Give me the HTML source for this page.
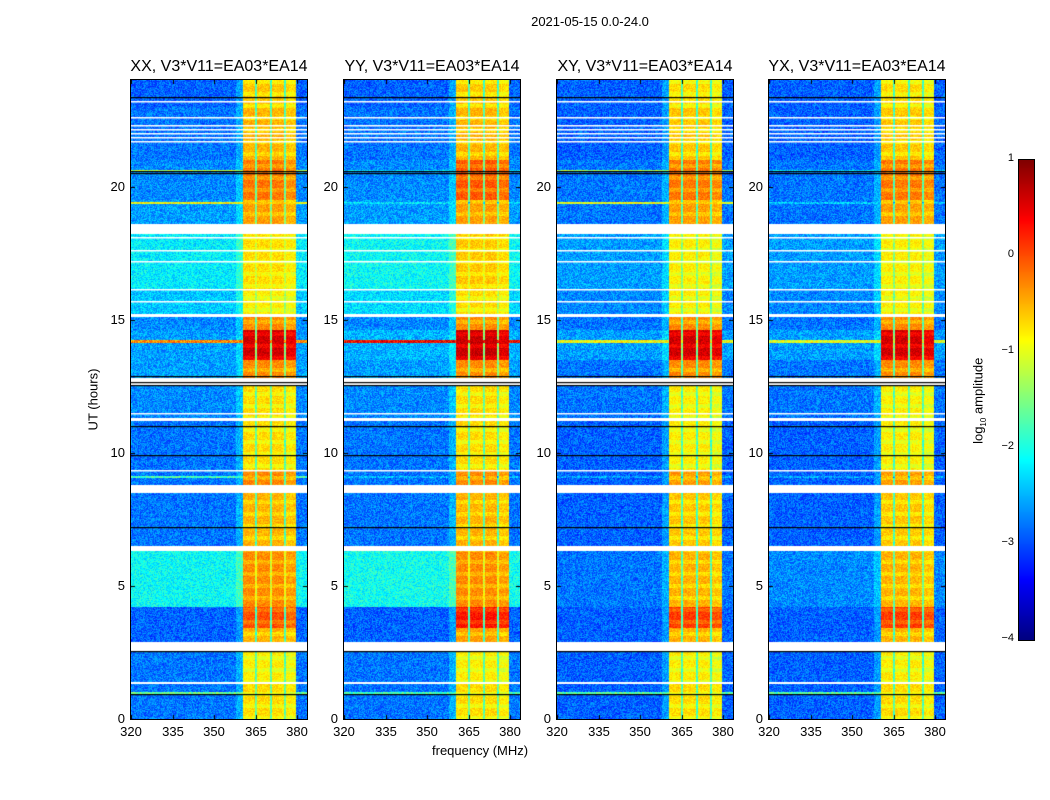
<!DOCTYPE html>
<html><head><meta charset="utf-8">
<style>
body{margin:0;background:#fff;width:1050px;height:800px;position:relative;overflow:hidden;font-family:"Liberation Sans",sans-serif;color:#000}
.t{position:absolute;white-space:nowrap}
canvas{position:absolute}
</style></head><body>
<div class="t" style="left:0;width:1180px;text-align:center;top:14px;font-size:13px">2021-05-15 0.0-24.0</div>
<div class="t" style="left:62px;top:392px;font-size:13px;transform:rotate(-90deg)">UT (hours)</div>
<div class="t" style="left:432px;top:743px;font-size:13px">frequency (MHz)</div>
<div id="root"></div>
<canvas id="cb" width="15" height="480" style="left:1019px;top:160px;border:1px solid #000;width:15px;height:480px;box-sizing:content-box;margin-left:-1px;margin-top:-1px"></canvas>
<div class="t" style="left:936px;top:392px;font-size:13px;transform:rotate(-90deg)">log<sub style="font-size:8px">10</sub> amplitude</div>
<script>
const panelTitles=["XX, V3*V11=EA03*EA14","YY, V3*V11=EA03*EA14","XY, V3*V11=EA03*EA14","YX, V3*V11=EA03*EA14"];
const panelLeft=[131,344,557,769];
const xTicks=[320,335,350,365,380];
const yTicks=[0,5,10,15,20];
const cbTicks=[1,0,-1,-2,-3,-4];
const segStart=[0,1.4,2.9,3.4,4.2,6.5,8.8,9.3,11.3,12.8,13.5,14.6,15.2,16.1,18.6,19.5,21,23];
const segEnd=[1.3,2.55,3.4,4.2,6.3,8.5,9.3,11.2,12.5,13.5,14.6,15.1,16.1,18.2,19.5,21,23,24];
const bgXX=[-2.8,-2.8,-2.9,-2.9,-2.1,-2.8,-2.8,-2.8,-2.7,-2.6,-2.6,-2.7,-2.4,-2.2,-2.6,-2.7,-2.8,-2.9];
const bgYY=[-2.8,-2.8,-2.9,-2.9,-2.05,-2.8,-2.8,-2.8,-2.7,-2.6,-2.5,-2.7,-2.3,-2.1,-2.6,-2.7,-2.8,-2.9];
const bgXY=[-2.9,-2.9,-2.9,-2.9,-2.8,-2.9,-2.9,-2.9,-2.8,-2.8,-2.6,-2.8,-2.7,-2.6,-2.8,-2.8,-2.9,-2.9];
const bgYX=[-2.9,-2.9,-2.9,-2.9,-2.7,-2.9,-2.9,-2.9,-2.8,-2.8,-2.6,-2.8,-2.7,-2.6,-2.8,-2.8,-2.9,-2.9];
const bandXX=[-0.7,-0.8,-0.5,0.0,-0.3,-0.5,-0.3,-0.7,-0.7,-0.3,0.6,-0.3,-0.8,-0.7,-0.4,-0.2,-0.5,-0.6];
const bandYY=[-0.7,-0.8,-0.4,0.3,-0.3,-0.5,-0.3,-0.7,-0.7,-0.3,0.65,-0.3,-0.7,-0.6,-0.4,-0.05,-0.5,-0.6];
const bandXY=[-0.7,-0.8,-0.5,0.1,-0.5,-0.6,-0.4,-0.8,-0.8,-0.3,0.6,-0.3,-0.8,-0.8,-0.4,-0.2,-0.6,-0.7];
const bandYX=[-0.7,-0.8,-0.5,0.1,-0.5,-0.6,-0.4,-0.8,-0.8,-0.3,0.6,-0.3,-0.8,-0.8,-0.4,-0.2,-0.6,-0.7];
const subBandLo=[360.5,365.5,370.9,376.1];
const subBandHi=[364.8,370.2,375.2,379.7];
const rfiTime=[14.2,19.4,20.6,1.0,9.1];
const rfiLevel=[[-0.3,-0.9,-1.2,-1.6,-1.8],[0.4,-2.3,-2.3,-1.8,-2.5],[-0.9,-1.0,-1.3,-1.7,-2.6],[-1.0,-2.4,-2.3,-1.7,-2.6]];
const whiteLines=[9.35,11.5,12.6,12.75,15.7,16.15,17.2,17.6,18.1,21.7,21.85,22.0,22.15,22.3,22.6,23.2];
const blackLines=[0.95,2.55,7.2,9.9,11.0,12.55,12.65,12.9,20.5,20.6,23.35];
const bgSets=[bgXX,bgYY,bgXY,bgYX], bandSets=[bandXX,bandYY,bandXY,bandYX];
const W=176,H=639,TOP=80,F0=320,F1=383.6;
function jet(t){t=Math.max(0,Math.min(1,t));const c=v=>Math.round(255*Math.max(0,Math.min(1,v)));return [c(1.5-Math.abs(4*t-3)),c(1.5-Math.abs(4*t-2)),c(1.5-Math.abs(4*t-1))];}
function hash(a,b){let h=(a*374761393+b*668265263)|0;h=(h^(h>>>13))*1274126177|0;return ((h^(h>>>16))>>>0)/4294967295;}
const xs=f=>(f-F0)/(F1-F0)*W, ys=t=>H-t/24*H;
const root=document.getElementById('root');
panelTitles.forEach((title,p)=>{
  const L=panelLeft[p];
  const tt=document.createElement('div');tt.className='t';
  
  
  tt.style.cssText=`left:${L-30}px;width:236px;text-align:center;top:58px;font-size:16px`;tt.textContent=title;root.appendChild(tt);
  const cv=document.createElement('canvas');cv.width=W;cv.height=H;
  
  
  cv.style.cssText=`left:${L}px;top:${TOP}px;outline:1px solid #000`;root.appendChild(cv);
  const ctx=cv.getContext('2d');const img=ctx.createImageData(W,H);
  const bg=bgSets[p],band=bandSets[p];
  for(let y=0;y<H;y++){
    const t=24*(1-(y+0.5)/H);
    let s=-1;for(let i=0;i<segStart.length;i++)if(t>=segStart[i]&&t<segEnd[i]){s=i;break;}
    let rfi=null;for(let i=0;i<rfiTime.length;i++)if(Math.abs(ys(rfiTime[i])-y)<1.2)rfi=rfiLevel[p][i];
    for(let x=0;x<W;x++){
      const o=(y*W+x)*4;
      if(s<0){img.data[o]=img.data[o+1]=img.data[o+2]=255;img.data[o+3]=255;continue;}
      const f=F0+(x+0.5)/W*(F1-F0);
      let v=bg[s]+(hash(x+p*999,y)-0.5)*0.7;
      let inb=-1;for(let k=0;k<4;k++)if(f>=subBandLo[k]&&f<subBandHi[k])inb=k;
      if(inb>=0){
        v=band[s]+(hash(x,y+p*777)-0.5)*0.4+((y>>2)%3==0?-0.2:0)+(inb==3?-0.1:0);
      } else if(f>=364.8&&f<379.7){v=bg[s]+1.1+(hash(x,y)-0.5)*0.6;}
      else if(f>=358&&f<360.5){v=bg[s]+0.3+(hash(x,y)-0.5)*0.6;}
      if(rfi!==null && inb<0)v=rfi+(hash(x,y)-0.5)*0.8;
      const c=jet((v+4)/5);img.data[o]=c[0];img.data[o+1]=c[1];img.data[o+2]=c[2];img.data[o+3]=255;
    }
  }
  ctx.putImageData(img,0,0);
  ctx.fillStyle='#fff';whiteLines.forEach(t=>ctx.fillRect(0,Math.round(ys(t)),W,1.5));
  ctx.fillStyle='#000';blackLines.forEach(t=>ctx.fillRect(0,Math.round(ys(t)),W,1.2));
  ctx.fillStyle='#000';
  xTicks.forEach(v=>{const x=Math.round(xs(v));ctx.fillRect(x,H-4,1,4);ctx.fillRect(x,0,1,4);
    const d=document.createElement('div');d.className='t';
    
    
    d.style.cssText=`left:${L+x-15}px;width:30px;text-align:center;top:${TOP+H+5}px;font-size:13px`;d.textContent=v;root.appendChild(d);});
  yTicks.forEach(v=>{const y=Math.round(ys(v));ctx.fillRect(0,y,4,1);ctx.fillRect(W-4,y,4,1);
    const d=document.createElement('div');d.className='t';
    
    
    d.style.cssText=`left:${L-40}px;width:34px;text-align:right;top:${TOP+y-8}px;font-size:13px`;d.textContent=v;root.appendChild(d);});
});
const cb=document.getElementById('cb').getContext('2d');
for(let y=0;y<480;y++){const c=jet(1-(y+0.5)/480);cb.fillStyle=`rgb(${c})`;cb.fillRect(0,y,15,1);}
cbTicks.forEach(v=>{const y=160+(1-v)/5*480;
  const d=document.createElement('div');d.className='t';
  
  
  d.style.cssText=`left:980px;width:34px;text-align:right;top:${y-8}px;font-size:11px`;d.textContent=v<0?'\u2212'+(-v):v;root.appendChild(d);});
</script>
</body></html>
